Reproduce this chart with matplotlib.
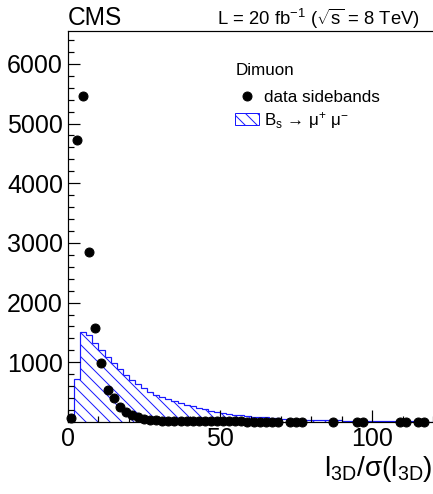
import numpy as np
import matplotlib
matplotlib.use("Agg")
import matplotlib.pyplot as plt
from matplotlib.patches import Patch
from matplotlib.lines import Line2D

plt.rcParams['font.family'] = ['Liberation Sans', 'DejaVu Sans']
plt.rcParams['mathtext.fontset'] = 'custom'
plt.rcParams['mathtext.rm'] = 'Liberation Sans'
plt.rcParams['mathtext.it'] = 'Liberation Sans'
plt.rcParams['mathtext.sf'] = 'Liberation Sans'
plt.rcParams['hatch.linewidth'] = 1.0

# signal MC (Bs -> mu mu), bins of width 2 from 0 to 120
bin_edges = np.arange(0, 122, 2)
bs_mumu = [0, 720, 1510, 1465, 1330, 1205, 1095, 990, 890, 790,
           705, 635, 572, 510, 460, 420, 385, 350, 315, 288,
           260, 235, 210, 190, 170, 152, 136, 122,
           110, 100, 92, 84, 76, 70, 64, 58, 53, 48,
           44, 40, 37, 34, 31, 28, 26, 24, 22, 20,
           18, 17, 15, 14, 13, 12, 11, 10, 9, 8, 8, 7]

# data sidebands (bin centres and counts)
data_x = [1, 3, 5, 7, 9, 11, 13, 15, 17, 19, 21, 23, 25, 27, 29,
          31, 33, 35, 37, 39, 41, 43, 45, 47, 49, 51, 53, 55, 57, 59,
          61, 63, 65, 67, 69, 73, 75, 77, 87, 95, 97, 109, 111, 115, 117]
data_y = [60, 4730, 5460, 2840, 1570, 990, 530, 395, 255, 160, 110, 80, 55, 40, 30,
          25, 22, 20, 18, 16, 15, 14, 13, 12, 11, 10, 10, 9, 9, 8,
          8, 7, 7, 6, 6, 5, 5, 5, 4, 4, 4, 3, 3, 3, 3]

fig = plt.figure(figsize=(433/72, 494/72), dpi=72)
ax = fig.add_axes([68/433, 72/494, 1 - 68/433, (422-31)/494])

ax.stairs(bs_mumu, bin_edges, fill=False, hatch='\\\\', edgecolor='#1a1aff', lw=1.2)
ax.plot(data_x, data_y, 'o', color='black', ms=9, clip_on=False, zorder=5)

ax.set_xlim(0, 120)
ax.set_ylim(0, 6550)
ax.set_xticks([0, 50, 100])
ax.set_yticks([1000, 2000, 3000, 4000, 5000, 6000])
ax.xaxis.set_minor_locator(matplotlib.ticker.MultipleLocator(10))
ax.yaxis.set_minor_locator(matplotlib.ticker.MultipleLocator(200))
ax.tick_params(which='both', direction='in', labelsize=25, width=1.2, pad=5)
ax.tick_params(which='major', length=12)
ax.tick_params(which='minor', length=6)
ax.spines['right'].set_visible(False)
for s in ['left', 'bottom', 'top']:
    ax.spines[s].set_linewidth(1.2)

fig.text(68/433, 1 - 25/494, 'CMS', fontsize=24.5, ha='left', va='baseline')
fig.text(420/433, 1 - 25/494, r'L = 20 fb$^{-1}$ ($\sqrt{\mathrm{s}}$ = 8 TeV)',
         fontsize=18.5, ha='right', va='baseline')
fig.text(1.0, 1 - 476/494, r'l$_{\mathrm{3D}}$/$\sigma$(l$_{\mathrm{3D}}$)',
         fontsize=28, ha='right', va='baseline')

handles = [Line2D([], [], marker='o', color='black', ls='none', ms=9),
           Patch(facecolor='none', edgecolor='#1a1aff', hatch='\\\\')]
leg = ax.legend(handles, ['data sidebands', r'B$_{\mathrm{s}}$ → μ$^{+}$ μ$^{-}$'],
                title='Dimuon', loc='upper left', bbox_to_anchor=(0.44, 0.935),
                frameon=False, fontsize=17, title_fontsize=17, handlelength=1.4,
                handletextpad=0.3, labelspacing=0.28, borderaxespad=0)
leg._legend_box.align = 'left'
leg._legend_box.sep = 12

fig.savefig('out.png', dpi=72)
